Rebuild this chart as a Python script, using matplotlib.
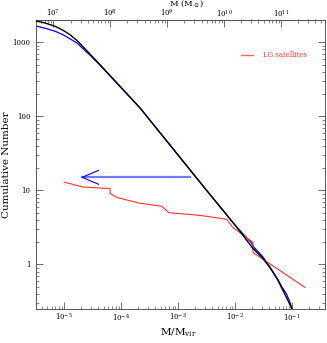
import numpy as np
import matplotlib
matplotlib.use('Agg')
from matplotlib import pyplot as plt
from matplotlib.ticker import LogLocator, NullFormatter

plt.rcParams['font.family'] = ['DejaVu Serif']
plt.rcParams['mathtext.fontset'] = 'dejavuserif'

# cumulative subhalo mass functions (M/Mvir, N(>M))
black_x = [3.23e-6, 4.65e-6, 6.95e-6, 9.6e-6, 1.27e-5, 1.7e-5, 2.15e-5, 2.86e-5, 4.28e-5,
           2.15e-4, 2.98e-3, 0.0108, 0.0207, 0.0298, 0.041, 0.0567, 0.0695, 0.085, 0.1]
black_y = [1940, 1817, 1645, 1450, 1263, 1048, 869, 689, 496,
           130, 10.6, 3.16, 1.64, 1.24, 0.91, 0.61, 0.445, 0.326, 0.25]
blue_x = [3.23e-6, 4.65e-6, 6.95e-6, 9.6e-6, 1.27e-5, 1.7e-5, 2.15e-5, 2.86e-5, 4.28e-5,
          2.15e-4, 2.98e-3, 0.0105, 0.0195, 0.0215, 0.0300, 0.040, 0.0570, 0.066,
          0.080, 0.092, 0.1]
blue_y = [1660, 1546, 1409, 1263, 1114, 970, 817, 667, 489,
          129, 10.6, 3.25, 1.95, 1.70, 1.30, 0.95, 0.62, 0.50,
          0.40, 0.31, 0.25]
# Local Group satellites
lg_x = [1e-5, 2.15e-5, 6.4e-5, 6.4e-5, 8.5e-5, 2.15e-4, 5.2e-4, 6.9e-4, 2.4e-3,
        5.5e-3, 7.2e-3, 9.2e-3, 0.0207, 0.0207, 0.169]
lg_y = [12.9, 11.1, 10.6, 9.1, 8.0, 6.7, 6.1, 5.0, 4.6,
        4.2, 4.05, 3.16, 1.98, 1.45, 0.49]
# arrow
arrow_tail = 1.62e-3
arrow_tip = 2.07e-5
arrow_y = 15.0

log_mvir = 12.19

fig = plt.figure(figsize=(3.27, 3.43), dpi=100)
ax = fig.add_axes([36/327, 1 - 309/343, 289/327, 289/343])

ax.plot(black_x, black_y, color='black', lw=1.0, zorder=3)
ax.plot(blue_x, blue_y, color='blue', lw=0.9, zorder=2)
ax.plot(lg_x, lg_y, color='#ff3030', lw=0.8, zorder=2)

ax.plot([arrow_tail, arrow_tip], [arrow_y, arrow_y], color='#7878ff', lw=1.6, zorder=1)
ax.plot([4.0e-5, arrow_tip, 4.0e-5], [18.6, arrow_y, 12.1], color='blue', lw=0.8, zorder=1)

ax.set_xscale('log')
ax.set_yscale('log')
ax.set_xlim(3.2e-6, 0.38)
ax.set_ylim(0.25, 2000)

ax.set_xticks([1e-5, 1e-4, 1e-3, 1e-2, 1e-1])
ax.set_xticklabels([r'$10^{-5}$', r'$10^{-4}$', r'$10^{-3}$', r'$10^{-2}$', r'$10^{-1}$'])
ax.set_yticks([1, 10, 100, 1000])
ax.set_yticklabels(['1', '10', '100', '1000'])
ax.xaxis.set_minor_locator(LogLocator(base=10, subs=np.arange(2, 10), numticks=20))
ax.yaxis.set_minor_locator(LogLocator(base=10, subs=np.arange(2, 10), numticks=20))
ax.xaxis.set_minor_formatter(NullFormatter())
ax.yaxis.set_minor_formatter(NullFormatter())

ax.tick_params(which='both', direction='in', right=True, top=False, labelsize=5,
               color='#555555')
ax.tick_params(which='major', length=5, width=0.6)
ax.tick_params(which='minor', length=2.5, width=0.5)
ax.tick_params(axis='x', pad=2)
ax.tick_params(axis='y', pad=4)
for s in ax.spines.values():
    s.set_color('#555555')
    s.set_linewidth(0.7)

top = ax.secondary_xaxis('top', functions=(lambda x: x * 10**log_mvir,
                                           lambda m: m / 10**log_mvir))
top.set_xticks([1e7, 1e8, 1e9, 1e10, 1e11])
top.set_xticklabels([r'$10^{7}$', r'$10^{8}$', r'$10^{9}$', r'$10^{10}$', r'$10^{11}$'])
top.xaxis.set_minor_locator(LogLocator(base=10, subs=np.arange(2, 10), numticks=20))
top.xaxis.set_minor_formatter(NullFormatter())
top.tick_params(which='both', direction='in', labelsize=5, color='#555555', pad=0.5)
top.tick_params(which='major', length=5, width=0.6)
top.tick_params(which='minor', length=2.5, width=0.5)
top.spines['top'].set_color('#555555')
fig.text(187/327, 1 - 4/343, r'M (M$_\odot$)', fontsize=6, ha='center', va='center')

fig.text(178/327, 1 - 333/343, r'M/M$_{\rm vir}$', fontsize=7.5, ha='center', va='center')
fig.text(7/327, 1 - 165/343, 'Cumulative Number', fontsize=7.5, ha='center', va='center',
         rotation=90)

ax.plot([0.709, 0.751], [0.879, 0.879], color='#ff6060', lw=1.0, transform=ax.transAxes)
ax.text(0.785, 0.879, 'LG satellites', color='#ff3030', fontsize=5, va='center',
        ha='left', transform=ax.transAxes)

fig.savefig('out.png', dpi=100)
